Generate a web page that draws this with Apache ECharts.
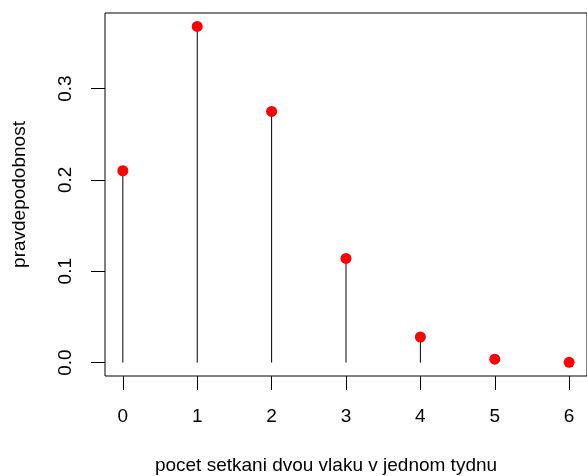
<!DOCTYPE html>
<html>
<head>
<meta charset="utf-8">
<script src="https://cdn.jsdelivr.net/npm/echarts@6/dist/echarts.min.js"></script>
<style>
html,body{margin:0;padding:0;background:#fff;}
#c{width:587px;height:476px;}
</style>
</head>
<body>
<div id="c"></div>
<script>
var categories = [0, 1, 2, 3, 4, 5, 6];
var probabilities = [0.210, 0.368, 0.275, 0.114, 0.028, 0.0037, 0.0003];
var xTicks = [0, 1, 2, 3, 4, 5, 6];
var yTicks = [0, 0.1, 0.2, 0.3];
var xTitle = 'pocet setkani dvou vlaku v jednom tydnu';
var yTitle = 'pravdepodobnost';

var pts = categories.map(function (c, i) { return [c, probabilities[i]]; });
var font = 'Liberation Sans, Arial, Helvetica, sans-serif';
var fs = 19;

var chart = echarts.init(document.getElementById('c'), null, {renderer: 'canvas'});
chart.setOption({
  animation: false,
  backgroundColor: '#ffffff',
  grid: {
    left: 105, right: -2, top: 13, bottom: 100,
    show: true, borderColor: '#000', borderWidth: 1, backgroundColor: 'transparent'
  },
  graphic: [{
    type: 'text',
    x: 326, y: 466,
    style: {
      text: xTitle, fontFamily: font, fontSize: fs, fill: '#000',
      textAlign: 'center', textVerticalAlign: 'middle'
    }
  }],
  xAxis: {
    type: 'value', min: -0.24, max: 6.24,
    axisLine: {show: false, onZero: false},
    splitLine: {show: false},
    axisTick: {show: true, inside: false, length: 14, customValues: xTicks, lineStyle: {color: '#000', width: 1}},
    axisLabel: {show: true, margin: 31, customValues: xTicks, fontFamily: font, fontSize: fs, color: '#000',
      formatter: function (v) { return String(v); }}
  },
  yAxis: {
    type: 'value', min: -0.0147, max: 0.3827,
    name: yTitle, nameLocation: 'middle', nameGap: 76,
    nameTextStyle: {fontFamily: font, fontSize: fs, color: '#000'},
    axisLine: {show: false, onZero: false},
    splitLine: {show: false},
    axisTick: {show: true, inside: false, length: 14, customValues: yTicks, lineStyle: {color: '#000', width: 1}},
    axisLabel: {show: true, margin: 30, rotate: 90, customValues: yTicks, fontFamily: font, fontSize: fs, color: '#000',
      formatter: function (v) { return v.toFixed(1); }}
  },
  series: [
    {
      type: 'custom',
      data: pts,
      renderItem: function (params, api) {
        var p0 = api.coord([api.value(0), 0]);
        var p1 = api.coord([api.value(0), api.value(1)]);
        return {
          type: 'line',
          shape: {x1: p0[0], y1: p0[1], x2: p1[0], y2: p1[1]},
          style: {stroke: '#000', lineWidth: 1}
        };
      },
      z: 1
    },
    {
      type: 'scatter',
      data: pts,
      symbol: 'circle',
      symbolSize: 11,
      itemStyle: {color: '#ff0000', opacity: 1},
      z: 2
    }
  ]
});
</script>
</body>
</html>
